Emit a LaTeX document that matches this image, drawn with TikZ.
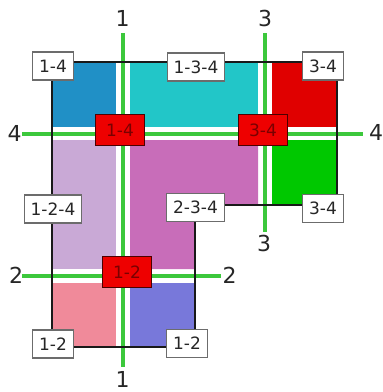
\documentclass[tikz,border=0pt]{standalone}
\usepackage{fontspec}
\setmainfont{DejaVu Sans}
\definecolor{cTL}{HTML}{2090C6}
\definecolor{cTM}{HTML}{22C6C8}
\definecolor{cTR}{HTML}{E00000}
\definecolor{cML}{HTML}{C9A9D6}
\definecolor{cMC}{HTML}{C86DB9}
\definecolor{cMR}{HTML}{00C800}
\definecolor{cBL}{HTML}{F08A9A}
\definecolor{cBR}{HTML}{7878DA}
\definecolor{gline}{HTML}{3CC83C}
\definecolor{boxred}{HTML}{EE0000}
\definecolor{txtred}{HTML}{7A0000}
\tikzset{
  wbox/.style={draw=gray!85!black, line width=1.2pt, fill=white, minimum height=28pt, inner xsep=6.5pt, inner ysep=0pt, font=\fontsize{17}{17}\selectfont, text=black!85},
  rbox/.style={draw=black!70!red, line width=1pt, fill=boxred, minimum height=31pt, inner xsep=10.5pt, inner ysep=0pt, font=\fontsize{17}{17}\selectfont, text=txtred},
  numlab/.style={font=\fontsize{22}{22}\selectfont, text=black!85, inner sep=0pt},
  gstrip/.style={line width=4pt, gline},
  outline/.style={line width=2pt, black!90}
}
\begin{document}
\begin{tikzpicture}[x=1pt,y=-1pt]
\path[use as bounding box] (0,0) rectangle (383,392);
% region fills
\fill[cTL] (52,62) rectangle (116,127);
\fill[cTM] (130,62) rectangle (258,127);
\fill[cTR] (272,62) rectangle (337,127);
\fill[cML] (52,140) rectangle (116,269);
\fill[cMC] (130,140) -- (258,140) -- (258,205) -- (195,205) -- (195,269) -- (130,269) -- cycle;
\fill[cMR] (272,140) rectangle (337,205);
\fill[cBL] (52,283) rectangle (116,347);
\fill[cBR] (130,283) rectangle (195,347);
% coordinates of cut lines
\coordinate (v1a) at (122.5,33);
\coordinate (v1b) at (122.5,367);
\coordinate (v3a) at (265,33);
\coordinate (v3b) at (265,232);
\coordinate (h4a) at (22,133.5);
\coordinate (h4b) at (363,133.5);
\coordinate (h2a) at (22,276);
\coordinate (h2b) at (221,276);
% green cut lines
\draw[gstrip] (v1a) -- (v1b);
\draw[gstrip] (v3a) -- (v3b);
\draw[gstrip] (h4a) -- (h4b);
\draw[gstrip] (h2a) -- (h2b);
% outline
\draw[outline] (52,62) -- (337,62) -- (337,205) -- (195,205) -- (195,347) -- (52,347) -- cycle;
% number labels
\node[numlab] (n1t) at (122.5,18) {1};
\node[numlab] (n1b) at (122.5,379) {1};
\node[numlab] (n3t) at (265,18.5) {3};
\node[numlab] (n3b) at (264,243) {3};
\node[numlab] (n4l) at (14.5,133) {4};
\node[numlab] (n4r) at (376,132) {4};
\node[numlab] (n2l) at (16,275.5) {2};
\node[numlab] (n2r) at (229.5,275.5) {2};
% white corner labels
\node[wbox] (c1) at (53,66) {1-4};
\node[wbox] (c2) at (196,67) {1-3-4};
\node[wbox] (c3) at (323,66) {3-4};
\node[wbox] (c4) at (53,209) {1-2-4};
\node[wbox] (c5) at (195.5,207.5) {2-3-4};
\node[wbox] (c6) at (323,208.5) {3-4};
\node[wbox] (c7) at (53,344) {1-2};
\node[wbox] (c8) at (187,343.5) {1-2};
% red crossing labels
\node[rbox] (r1) at (120,130) {1-4};
\node[rbox] (r2) at (263,130) {3-4};
\node[rbox] (r3) at (127,272) {1-2};
\end{tikzpicture}
\end{document}
